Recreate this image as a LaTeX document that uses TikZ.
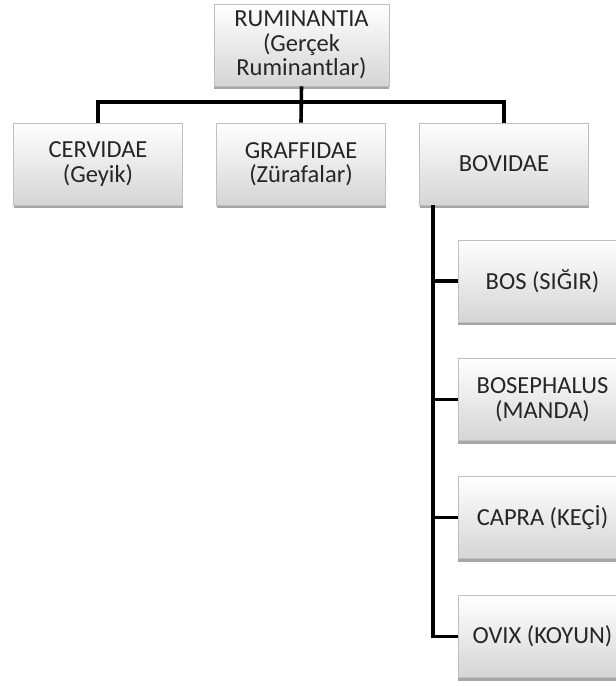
\documentclass[tikz,border=0pt]{standalone}
\usepackage{fontspec}
\setmainfont{Carlito}
\usetikzlibrary{shadows}
\begin{document}
\begin{tikzpicture}[x=1pt,y=-1pt,
  box/.style={draw=gray!50, line width=0.6pt, top color=white, bottom color=gray!33,
    minimum width=169pt, minimum height=82pt, inner sep=2pt, align=center,
    text=black!85, font=\fontsize{24.5}{24.5}\selectfont,
    drop shadow={shadow xshift=0pt, shadow yshift=-3pt, opacity=0.35, fill=black}},
  conn/.style={line width=3.6pt, black}]
\useasboundingbox (0,0) rectangle (616,686);
\clip (0,0) rectangle (616,686);
\node[box, minimum width=175pt] (root) at (301.5,45) {RUMINANTIA\\(Gerçek\\Ruminantlar)};
\node[box] (cerv) at (98,164) {CERVIDAE\\(Geyik)};
\node[box] (graf) at (301,164) {GRAFFIDAE\\(Zürafalar)};
\node[box] (bov) at (504,164) {BOVIDAE};
\node[box] (bos) at (542.5,281) {BOS (SIĞIR)};
\node[box] (bsp) at (542.5,399.5) {BOSEPHALUS\\(MANDA)};
\node[box] (cap) at (542.5,517.5) {CAPRA (KEÇİ)};
\node[box] (ovi) at (542.5,636.5) {OVIX (KOYUN)};
\coordinate (bus) at (0,102);
\coordinate (spine) at (433,0);
\draw[conn] (root.south) -- (graf.north);
\draw[conn] (cerv.north) -- (cerv.north |- bus) -- (bov.north |- bus) -- (bov.north);
\draw[conn] (spine |- bov.south) -- (spine |- ovi.west) -- (ovi.west);
\draw[conn] (spine |- bos.west) -- (bos.west);
\draw[conn] (spine |- bsp.west) -- (bsp.west);
\draw[conn] (spine |- cap.west) -- (cap.west);
\end{tikzpicture}
\end{document}
